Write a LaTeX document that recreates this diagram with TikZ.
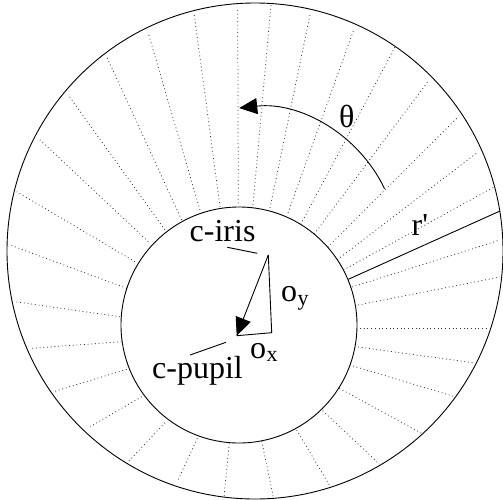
\documentclass[tikz,border=0pt]{standalone}
\usepackage{fontspec}
\setmainfont{Liberation Serif}
\usetikzlibrary{arrows.meta}
\begin{document}
\begin{tikzpicture}[x=1pt,y=-1pt,
  edge/.style={line width=0.9pt, black},
  ray/.style={line width=0.75pt, dash pattern=on 0.9pt off 2.8pt, black!80},
  lbl/.style={font=\fontsize{32}{38}\selectfont, inner sep=0pt, anchor=base west},
  sublbl/.style={font=\fontsize{22}{26}\selectfont, inner sep=0pt, anchor=base west},
  head/.style={-{Triangle[length=18pt,width=16pt]}}
]
\useasboundingbox (0,0) rectangle (503,499);
\coordinate (I) at (255,251);
\coordinate (P) at (239,325);
% radial dotted lines
\foreach \ax/\ay/\bx/\by in {
 238.3/203.3/237.7/7, 220/206.7/194.3/15, 200/210/148.3/33.3,
 181.7/220/106.7/56.7, 165/230/68.3/95, 148.3/241.7/38.3/138.3,
 135/261.7/16.7/191.7, 126.7/288.3/10/245, 120/316.7/15/301.7,
 121.7/341.7/31.7/348.3, 126.7/369.3/53.3/391.7, 141.7/396.7/90/426.7,
 165/422.7/128.3/461.7, 197.3/438.3/177.3/481.7, 229.3/443.3/224/496.7,
 261.7/441/273.3/496.7, 296.7/430/329.3/485, 322.7/410.7/379.3/464,
 339.3/388.3/421.7/433.3, 353/366/455/396.7, 358/347/475/363,
 360/328/490/328, 358/305/500/277, 352/287/500/240,
 343.4/270/494/187, 337.3/259.7/478/152, 327.7/247.1/458/117,
 314.2/234.1/429/80, 300.7/224.4/395/47, 288/213/354/29,
 270/208/310/15, 253/205/271/5}
 \draw[ray] (\ax,\ay) -- (\bx,\by);
% circles
\draw[edge] (I) circle[radius=248];
\draw[edge] (P) circle[radius=118];
% r' radius line
\coordinate (rin) at (348.3,279.3);
\coordinate (rout) at (500,211);
\draw[edge] (rin) -- (rout);
% theta arc
\path (I) ++(-25.7:143.8) coordinate (thstart);
\draw[edge,head] (thstart) arc[start angle=-25.7, end angle=-96.3, radius=143.8];
% offset triangle
\coordinate (ci) at (268.3,255);
\coordinate (corner) at (271.7,332.7);
\coordinate (cp) at (236.7,335.7);
\draw[edge] (ci) -- (corner) -- (cp);
\draw[edge,head] (ci) -- (cp);
% leader lines
\coordinate (ciA) at (227.3,247.3);
\coordinate (ciB) at (257.3,253.3);
\coordinate (cpA) at (190,355);
\coordinate (cpB) at (226,342.3);
\draw[edge] (ciA) -- (ciB);
\draw[edge] (cpA) -- (cpB);
% labels
\node[lbl] (ciris) at (189.5,241) {c-iris};
\node[lbl] (cpupil) at (152,378) {c-pupil};
\node[lbl] (theta) at (339,127) {θ};
\node[lbl] (rprime) at (411.5,235) {r\textquotesingle};
\node[lbl] (oy) at (281,301.7) {o};
\node[sublbl] (oysub) at (oy.base east) [yshift=-3.3pt] {y};
\node[lbl] (ox) at (250,358.3) {o};
\node[sublbl] (oxsub) at (ox.base east) [yshift=-3.3pt] {x};
\end{tikzpicture}
\end{document}
